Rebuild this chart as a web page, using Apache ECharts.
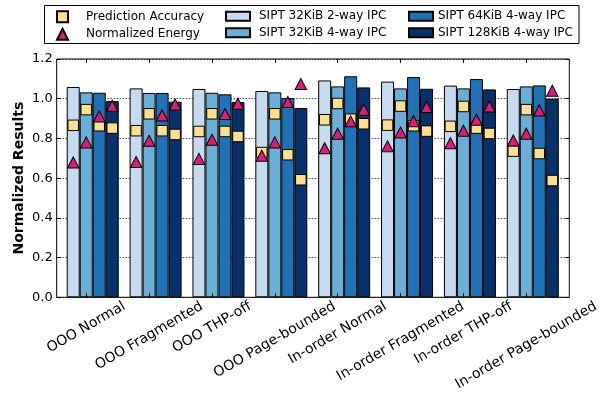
<!DOCTYPE html>
<html><head><meta charset="utf-8">
<script src="https://cdn.jsdelivr.net/npm/echarts@6/dist/echarts.min.js"></script>
<style>html,body{margin:0;padding:0;background:#fff}#c{width:605px;height:395px}</style>
</head><body><div id="c"></div>
<script>
const categories = ['OOO Normal','OOO Fragmented','OOO THP-off','OOO Page-bounded','In-order Normal','In-order Fragmented','In-order THP-off','In-order Page-bounded'];
const configNames = ['SIPT 32KiB 2-way IPC','SIPT 32KiB 4-way IPC','SIPT 64KiB 4-way IPC','SIPT 128KiB 4-way IPC'];
const ipc32k2  = [1.059,1.052,1.049,1.039,1.092,1.086,1.066,1.049];
const ipc32k4  = [1.032,1.029,1.030,1.032,1.062,1.052,1.052,1.062];
const ipc64k4  = [1.030,1.029,1.022,1.003,1.113,1.109,1.099,1.067];
const ipc128k4 = [0.988,0.985,0.983,0.953,1.057,1.050,1.047,1.000];
const acc32k2  = [0.866,0.839,0.835,0.729,0.894,0.867,0.861,0.736];
const acc32k4  = [0.945,0.924,0.924,0.924,0.976,0.963,0.961,0.945];
const acc64k4  = [0.864,0.839,0.835,0.718,0.897,0.864,0.852,0.724];
const acc128k4 = [0.852,0.820,0.810,0.592,0.874,0.837,0.825,0.588];
const energy32k2  = [0.679,0.681,0.697,0.713,0.751,0.760,0.776,0.790];
const energy32k4  = [0.780,0.788,0.793,0.780,0.824,0.830,0.839,0.824];
const energy64k4  = [0.911,0.916,0.923,0.983,0.886,0.887,0.894,0.941];
const energy128k4 = [0.965,0.971,0.975,1.074,0.945,0.958,0.961,1.040];
const yMin = 0, yMax = 1.2, yStep = 0.2;

const FONT = 'DejaVu Sans';
const barColors = ['#c6dbef','#6baed6','#2171b5','#08306b'];
const ipcSets = [ipc32k2, ipc32k4, ipc64k4, ipc128k4];
const accSets = [acc32k2, acc32k4, acc64k4, acc128k4];
const energySets = [energy32k2, energy32k4, energy64k4, energy128k4];

const TOP = 59, BOTTOM = 395 - 297.3;
const BAR_LEFT = 61.3, BAR_W = 502.9;
const BW = 13;

const series = [];
configNames.forEach((n, i) => {
  series.push({
    name: n, type: 'bar', xAxisIndex: 1, yAxisIndex: 2,
    barWidth: BW, barGap: '0%', z: 2,
    itemStyle: { color: barColors[i], borderColor: '#000', borderWidth: 1 },
    data: ipcSets[i]
  });
});
accSets.forEach((arr, i) => {
  series.push({
    name: 'Prediction Accuracy', type: 'scatter', xAxisIndex: 1, yAxisIndex: 2, z: 3,
    symbol: 'rect', symbolSize: 10.5, symbolOffset: [(i - 1.5) * BW, 0],
    itemStyle: { color: '#fddf90', borderColor: '#000', borderWidth: 1, opacity: 1 },
    data: arr
  });
});
energySets.forEach((arr, i) => {
  series.push({
    name: 'Normalized Energy', type: 'scatter', xAxisIndex: 1, yAxisIndex: 2, z: 4,
    symbol: 'triangle', symbolSize: [11.5, 11], symbolOffset: [(i - 1.5) * BW, 0],
    itemStyle: { color: '#dd1c77', borderColor: '#000', borderWidth: 1, opacity: 1 },
    data: arr
  });
});

const option = {
  animation: false,
  textStyle: { fontFamily: FONT },
  grid: [
    { left: 56.7, right: 605 - 569.3, top: TOP, bottom: BOTTOM, show: true, borderColor: '#000', borderWidth: 1, backgroundColor: 'transparent', outerBoundsMode: 'none', containLabel: false },
    { left: BAR_LEFT, width: BAR_W, top: TOP, bottom: BOTTOM, outerBoundsMode: 'none', containLabel: false },
    { left: BAR_LEFT - BW / 2, width: BAR_W, top: TOP, bottom: BOTTOM, outerBoundsMode: 'none', containLabel: false }
  ],
  xAxis: [
    { type: 'value', gridIndex: 0, show: false, min: 0, max: 1 },
    { type: 'category', gridIndex: 1, data: categories, show: false },
    { type: 'category', gridIndex: 2, position: 'bottom', data: categories, z: 10,
      axisLine: { show: false },
      axisTick: { show: true, inside: true, length: 4, alignWithLabel: true, interval: 0, lineStyle: { color: '#000' } },
      axisLabel: { show: false }, splitLine: { show: false } },
    { type: 'category', gridIndex: 2, position: 'top', data: categories, z: 10,
      axisLine: { show: false },
      axisTick: { show: true, inside: true, length: 4, alignWithLabel: true, interval: 0, lineStyle: { color: '#000' } },
      axisLabel: { show: false }, splitLine: { show: false } }
  ],
  yAxis: [
    { type: 'value', gridIndex: 0, min: yMin, max: yMax, interval: yStep, position: 'left',
      name: 'Normalized Results', nameLocation: 'middle', nameGap: 30, nameMoveOverlap: false,
      nameTextStyle: { fontSize: 14, fontWeight: 'bold', fontFamily: FONT, color: '#000' },
      axisLine: { show: false },
      axisTick: { show: true, inside: true, length: 4, lineStyle: { color: '#000' } },
      axisLabel: { fontSize: 13, fontFamily: FONT, color: '#000', margin: 4, formatter: v => v.toFixed(1) },
      splitLine: { show: true, lineStyle: { color: '#000', width: 1, type: [1, 2] } } },
    { type: 'value', gridIndex: 0, min: yMin, max: yMax, interval: yStep, position: 'right',
      axisLine: { show: false },
      axisTick: { show: true, inside: true, length: 4, lineStyle: { color: '#000' } },
      axisLabel: { show: false }, splitLine: { show: false } },
    { type: 'value', gridIndex: 1, min: yMin, max: yMax, interval: yStep, show: false },
    { type: 'value', gridIndex: 2, min: yMin, max: yMax, interval: yStep, show: false }
  ],
  legend: [
    { orient: 'vertical', left: 56, top: 10.2, padding: 0, itemWidth: 11, itemHeight: 11, itemGap: 4.5, selectedMode: false,
      textStyle: { fontSize: 12, fontFamily: FONT, color: '#000', padding: [0, 0, 0, 13] },
      data: [{ name: 'Prediction Accuracy', icon: 'rect' }, { name: 'Normalized Energy', icon: 'triangle' }] },
    { orient: 'vertical', left: 225, top: 10.2, padding: 0, itemWidth: 24, itemHeight: 9, itemGap: 4.5, selectedMode: false,
      textStyle: { fontSize: 12, fontFamily: FONT, color: '#000', padding: [0, 0, 0, 4] },
      data: [{ name: configNames[0], icon: 'rect' }, { name: configNames[1], icon: 'rect' }] },
    { orient: 'vertical', left: 408, top: 10.2, padding: 0, itemWidth: 24, itemHeight: 9, itemGap: 4.5, selectedMode: false,
      textStyle: { fontSize: 12, fontFamily: FONT, color: '#000', padding: [0, 0, 0, 0] },
      data: [{ name: configNames[2], icon: 'rect' }, { name: configNames[3], icon: 'rect' }] }
  ],
  series: series
};
const chart = echarts.init(document.getElementById('c'), null, { renderer: 'canvas' });
chart.setOption(option);

// rotated category labels, centred on their ticks (matplotlib style)
const ctx = document.createElement('canvas').getContext('2d');
ctx.font = '14px "' + FONT + '"';
const axisY = chart.convertToPixel({ yAxisIndex: 0 }, yMin);
const graphics = [
  { type: 'rect', shape: { x: 44.5, y: 5.5, width: 534.5, height: 38 }, style: { fill: 'none', stroke: '#000', lineWidth: 1 }, z: 100 }
];
categories.forEach((c, i) => {
  const L = ctx.measureText(c).width;
  const x = chart.convertToPixel({ xAxisIndex: 2 }, c);
  graphics.push({
    type: 'text', x: x, y: axisY + 8 + 0.25 * L, rotation: Math.PI / 6, z: 100,
    style: { text: c, fontSize: 14, fontFamily: FONT, fill: '#000', align: 'center', verticalAlign: 'middle', textAlign: 'center', textVerticalAlign: 'middle' }
  });
});
chart.setOption({ graphic: graphics });
</script>
</body></html>
